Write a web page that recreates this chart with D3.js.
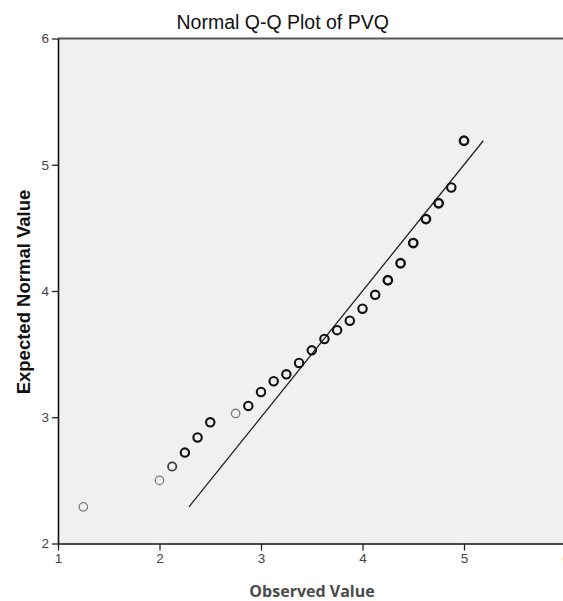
<!DOCTYPE html>
<html>
<head>
<meta charset="utf-8">
<script src="https://cdn.jsdelivr.net/npm/d3@7"></script>
<style>
  body { margin: 0; background: #fff; }
  svg { display: block; }
</style>
</head>
<body>
<svg id="chart" width="563" height="601"></svg>
<script>
// Observed PVQ scores and their expected normal values
const observed = [1.25, 2.0, 2.125, 2.25, 2.375, 2.5, 2.75, 2.875, 3.0, 3.125, 3.25, 3.375, 3.5,
                  3.625, 3.75, 3.875, 4.0, 4.125, 4.25, 4.375, 4.5, 4.625, 4.75, 4.875, 5.0];
const expected = [2.29, 2.50, 2.61, 2.72, 2.84, 2.96, 3.03, 3.09, 3.20, 3.285, 3.34, 3.43, 3.53,
                  3.62, 3.69, 3.765, 3.86, 3.97, 4.085, 4.22, 4.38, 4.57, 4.695, 4.82, 5.19];
// Number of cases sharing each observed value (overlapping markers print darker)
const caseCounts = [1, 1, 2, 3, 3, 3, 1, 3, 4, 4, 4, 5, 5, 6, 6, 6, 7, 7, 8, 9, 10, 9, 8, 7, 12];

const xTicks = [1, 2, 3, 4, 5, 6];
const yTicks = [2, 3, 4, 5, 6];
const xDomain = [1, 6];
const yDomain = [2, 6];
// Reference line y = x across the range of expected values
const refLine = [2.29, 5.19];

const svg = d3.select("#chart");
const plotLeft = 58, plotTop = 38.5, plotBottom = 543.5;
const x = d3.scaleLinear().domain(xDomain).range([plotLeft, plotLeft + 5 * 101.5]);
const y = d3.scaleLinear().domain(yDomain).range([plotBottom, plotTop]);

// Plot background
svg.append("rect")
  .attr("x", plotLeft).attr("y", plotTop)
  .attr("width", x(6) - plotLeft).attr("height", plotBottom - plotTop)
  .attr("fill", "#f0f0f0");

// Top frame line
svg.append("line")
  .attr("x1", plotLeft).attr("x2", x(6))
  .attr("y1", plotTop).attr("y2", plotTop)
  .attr("stroke", "#555").attr("stroke-width", 2);

// Axes
const yAxis = svg.append("g")
  .attr("transform", `translate(${plotLeft},0)`)
  .call(d3.axisLeft(y).tickValues(yTicks).tickSize(6).tickSizeOuter(0).tickPadding(3).tickFormat(d3.format("d")));
const xAxis = svg.append("g")
  .attr("transform", `translate(0,${plotBottom})`)
  .call(d3.axisBottom(x).tickValues(xTicks).tickSize(7).tickSizeOuter(0).tickPadding(3).tickFormat(d3.format("d")));

[yAxis, xAxis].forEach(g => {
  g.select(".domain").attr("stroke", "#111").attr("stroke-width", 1.6);
  g.selectAll(".tick line").attr("stroke", "#222").attr("stroke-width", 1.3);
  g.selectAll(".tick text")
    .attr("fill", "#444")
    .style("font-family", "Arial, 'Liberation Sans', sans-serif")
    .style("font-size", "13.5px");
});

// Reference line
svg.append("line")
  .attr("x1", x(refLine[0])).attr("y1", y(refLine[0]))
  .attr("x2", x(refLine[1])).attr("y2", y(refLine[1]))
  .attr("stroke", "#222").attr("stroke-width", 1.3);

// Points
const pts = observed.map((v, i) => ({ obs: v, exp: expected[i], n: caseCounts[i] }));
const strokeColor = n => n <= 1 ? "#7a7a7a" : n === 2 ? "#3a3a3a" : "#111";
const strokeWidth = n => n <= 1 ? 1.3 : n === 2 ? 1.7 : n >= 8 ? 2.4 : 2.1;
svg.append("g").selectAll("circle")
  .data(pts)
  .join("circle")
  .attr("cx", d => x(d.obs))
  .attr("cy", d => y(d.exp))
  .attr("r", 4.2)
  .attr("fill", "none")
  .attr("stroke", d => strokeColor(d.n))
  .attr("stroke-width", d => strokeWidth(d.n));

// Title
svg.append("text")
  .attr("x", 282.7).attr("y", 29)
  .attr("text-anchor", "middle")
  .style("font-family", "Arial, 'Liberation Sans', sans-serif")
  .style("font-size", "19.5px")
  .attr("fill", "#111")
  .text("Normal Q-Q Plot of PVQ");

// Axis titles
svg.append("text")
  .attr("x", 312).attr("y", 596.5)
  .attr("text-anchor", "middle")
  .style("font-family", "'Open Sans', sans-serif")
  .style("font-weight", "bold")
  .style("font-size", "16px")
  .attr("fill", "#4a4a4a")
  .text("Observed Value");

svg.append("text")
  .attr("transform", "translate(29.5,292) rotate(-90)")
  .attr("text-anchor", "middle")
  .style("font-family", "Arial, 'Liberation Sans', sans-serif")
  .style("font-weight", "bold")
  .style("font-size", "18.5px")
  .attr("fill", "#111")
  .text("Expected Normal Value");
</script>
</body>
</html>
